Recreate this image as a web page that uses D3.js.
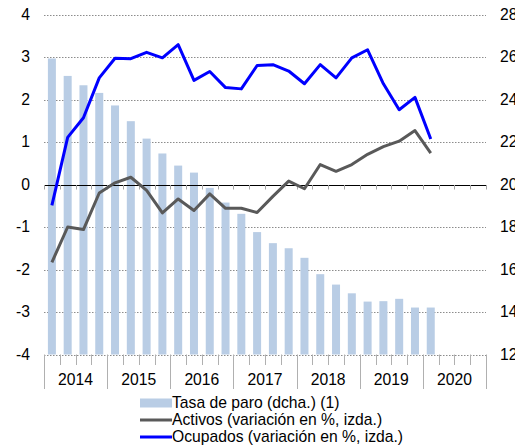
<!DOCTYPE html>
<html><head><meta charset="utf-8">
<script src="https://cdn.jsdelivr.net/npm/d3@7"></script>
<style>body{margin:0;background:#fff}svg{display:block;font-family:"Liberation Sans",Arial,sans-serif}</style>
</head><body>
<svg id="c" width="515" height="446"></svg>
<script>
const years = ["2014","2015","2016","2017","2018","2019","2020"];
const quarters = years.flatMap(y => ["T1","T2","T3","T4"].map(q => y + q));
const paro = [25.93,25.11,24.67,24.31,23.72,22.98,22.16,21.46,20.89,20.56,19.84,19.15,18.62,17.76,17.24,17.00,16.55,15.78,15.29,14.88,14.49,14.51,14.62,14.21,14.21];
const activos = [-1.83,-1.00,-1.06,-0.20,0.04,0.17,-0.14,-0.67,-0.34,-0.61,-0.22,-0.56,-0.56,-0.66,-0.28,0.08,-0.10,0.47,0.31,0.47,0.71,0.89,1.02,1.27,0.74];
const ocupados = [-0.49,1.11,1.57,2.51,2.97,2.96,3.11,2.98,3.29,2.45,2.66,2.28,2.25,2.80,2.82,2.67,2.37,2.82,2.51,2.98,3.17,2.37,1.76,2.05,1.07];
const leftTicks = [-4,-3,-2,-1,0,1,2,3,4];
const rightTicks = [12,14,16,18,20,22,24,26,28];
const legendLabels = ["Tasa de paro (dcha.) (1)","Activos (variación en %, izda.)","Ocupados (variación en %, izda.)"];

const svg = d3.select("#c");
const L = 44, R = 486, T = 14.5, B = 354.5;
const FS = 15.7;
const x = d3.scaleBand().domain(quarters).range([L, R]).padding(0);
const xYear = d3.scaleBand().domain(years).range([L, R]);
const yL = d3.scaleLinear().domain([-4, 4]).range([B, T]);
const yR = d3.scaleLinear().domain([12, 28]).range([B, T]);
const cx = (i) => x(quarters[i]) + x.bandwidth() / 2;

// gridlines
svg.append("g").selectAll("line").data(leftTicks.filter(d => d !== 0)).join("line")
  .attr("x1", L).attr("x2", R)
  .attr("y1", d => Math.round(yL(d)) + 0.5).attr("y2", d => Math.round(yL(d)) + 0.5)
  .attr("stroke", "#8c8c8c").attr("stroke-width", 1).attr("stroke-dasharray", "1.5,1.5");

// bars
const bw = 8;
svg.append("g").selectAll("rect").data(paro).join("rect")
  .attr("x", (d, i) => cx(i) - bw / 2).attr("width", bw)
  .attr("y", d => yR(d)).attr("height", d => B - yR(d))
  .attr("fill", "#b9cde5");

// zero line with ticks
svg.append("line").attr("x1", L).attr("x2", R).attr("y1", Math.round(yL(0)) + 0.5).attr("y2", Math.round(yL(0)) + 0.5)
  .attr("stroke", "#000").attr("stroke-width", 1);
const tickXs = d3.range(quarters.length + 1).map(i => L + i * x.bandwidth());
svg.append("g").selectAll("line").data(tickXs).join("line")
  .attr("x1", d => Math.round(d) + 0.5).attr("x2", d => Math.round(d) + 0.5)
  .attr("y1", yL(0) + 0.5).attr("y2", yL(0) + 5)
  .attr("stroke", "#a6a6a6");

// bottom ticks
svg.append("g").selectAll("line").data(tickXs).join("line")
  .attr("x1", d => Math.round(d) + 0.5).attr("x2", d => Math.round(d) + 0.5)
  .attr("y1", B).attr("y2", (d, i) => i % 4 === 0 ? 389 : 365)
  .attr("stroke", "#b0b0b0");

// lines
const line = d3.line().x((d, i) => cx(i)).y(d => yL(d));
svg.append("path").datum(activos).attr("d", line).attr("fill", "none")
  .attr("stroke", "#595959").attr("stroke-width", 3).attr("stroke-linejoin", "round");
svg.append("path").datum(ocupados).attr("d", line).attr("fill", "none")
  .attr("stroke", "#0000ff").attr("stroke-width", 3).attr("stroke-linejoin", "round");

// axis labels
svg.append("g").selectAll("text").data(leftTicks).join("text")
  .attr("x", 30).attr("y", d => yL(d)).attr("dy", "0.35em").attr("text-anchor", "end")
  .attr("font-size", FS).attr("fill", "#000").text(d => d);
svg.append("g").selectAll("text").data(rightTicks).join("text")
  .attr("x", 500).attr("y", d => yR(d)).attr("dy", "0.35em").attr("text-anchor", "start")
  .attr("font-size", FS).attr("fill", "#000").text(d => d);
svg.append("g").selectAll("text").data(years).join("text")
  .attr("x", d => xYear(d) + xYear.bandwidth() / 2).attr("y", 380).attr("dy", "0.35em")
  .attr("text-anchor", "middle").attr("font-size", FS).attr("fill", "#000").text(d => d);

// legend
const lg = svg.append("g");
const ly = [403, 420, 437];
lg.append("rect").attr("x", 140).attr("y", ly[0] - 4.5).attr("width", 32).attr("height", 9).attr("fill", "#b9cde5");
lg.append("line").attr("x1", 140).attr("x2", 172).attr("y1", ly[1]).attr("y2", ly[1]).attr("stroke", "#595959").attr("stroke-width", 3);
lg.append("line").attr("x1", 140).attr("x2", 172).attr("y1", ly[2]).attr("y2", ly[2]).attr("stroke", "#0000ff").attr("stroke-width", 3);
lg.selectAll("text").data(legendLabels).join("text")
  .attr("x", 172).attr("y", (d, i) => ly[i]).attr("dy", "0.35em")
  .attr("font-size", FS).attr("fill", "#000").text(d => d);
</script>
</body></html>
